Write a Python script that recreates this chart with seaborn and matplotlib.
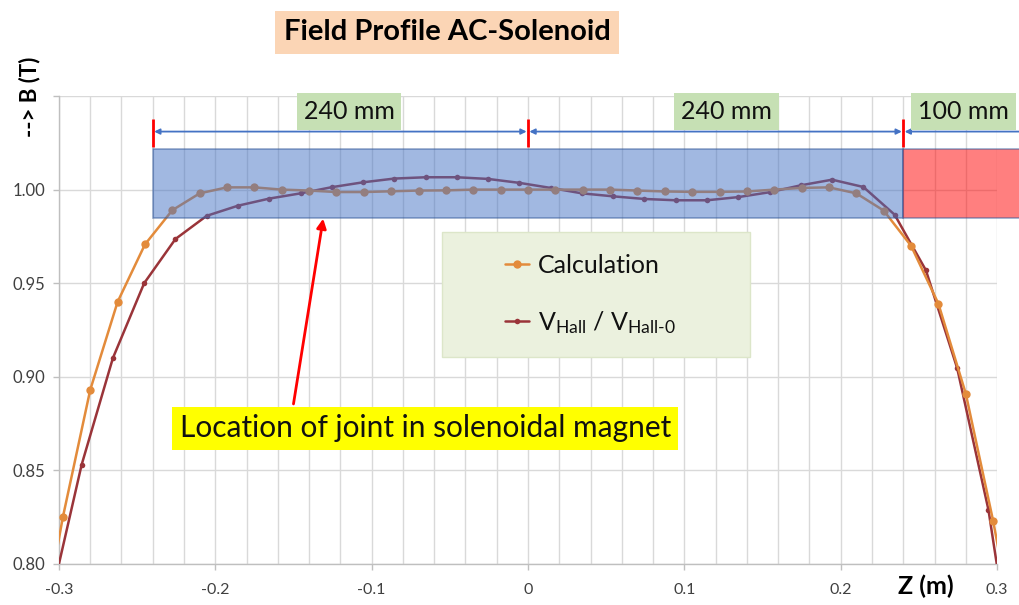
import matplotlib
matplotlib.use("Agg")
import matplotlib.pyplot as plt
import seaborn as sns
from matplotlib.patches import Rectangle
from matplotlib.ticker import MultipleLocator

# Calculated field profile along the axis (step 17.5 mm)
z_calc = [-0.315, -0.2975, -0.28, -0.2625, -0.245, -0.2275, -0.21, -0.1925,
          -0.175, -0.1575, -0.14, -0.1225, -0.105, -0.0875, -0.07, -0.0525,
          -0.035, -0.0175, 0.0, 0.0175, 0.035, 0.0525, 0.07, 0.0875, 0.105,
          0.1225, 0.14, 0.1575, 0.175, 0.1925, 0.21, 0.2275, 0.245, 0.2625,
          0.28, 0.2975, 0.315]
b_calc = [0.745, 0.825, 0.893, 0.940, 0.9707, 0.989, 0.998, 1.0012,
          1.0012, 1.0000, 0.9995, 0.9987, 0.9987, 0.9991, 0.9995, 0.9996,
          1.0000, 1.0000, 1.0000, 1.0000, 1.0000, 1.0000, 0.9995, 0.9990,
          0.9988, 0.9988, 0.9990, 1.0000, 1.0009, 1.0012, 0.998, 0.9888,
          0.970, 0.939, 0.891, 0.823, 0.745]

# Measured Hall probe ratio (step 20 mm)
z_hall = [-0.3055, -0.2855, -0.2655, -0.2455, -0.2255, -0.2055, -0.1855,
          -0.1655, -0.1455, -0.1255, -0.1055, -0.0855, -0.0655, -0.0455,
          -0.0255, -0.0055, 0.0145, 0.0345, 0.0545, 0.0745, 0.0945, 0.1145,
          0.1345, 0.1545, 0.1745, 0.1945, 0.2145, 0.2345, 0.2545, 0.2745,
          0.2945, 0.3145]
b_hall = [0.780, 0.853, 0.910, 0.950, 0.9736, 0.986, 0.9914, 0.9952,
          0.998, 1.0013, 1.0039, 1.0059, 1.0066, 1.0066, 1.0057, 1.0036,
          1.0009, 0.998, 0.9964, 0.995, 0.9943, 0.9943, 0.996, 0.9986,
          1.0023, 1.0053, 1.0014, 0.9866, 0.9569, 0.9046, 0.8289, 0.720]

x_ticks = [-0.3, -0.2, -0.1, 0.0, 0.1, 0.2, 0.3]
x_tick_labels = ["-0.3", "-0.2", "-0.1", "0", "0.1", "0.2", "0.3"]
y_ticks = [0.80, 0.85, 0.90, 0.95, 1.00, 1.05]
y_tick_labels = ["0.80", "0.85", "0.90", "0.95", "1.00", ""]

# Winding sections: two 240 mm halves and the 100 mm end piece
section_edges = [-0.24, 0.0, 0.24, 0.34]
section_labels = ["240 mm", "240 mm", "100 mm"]
section_label_x = [-0.1145, 0.127, 0.2785]
band_low, band_high = 0.985, 1.0215

ORANGE = "#e38b3b"
MAROON = "#9a3439"
BLUE = "#4472c4"

sns.set_theme(style="whitegrid")
plt.rcParams["font.family"] = ["Lato", "DejaVu Sans"]
plt.rcParams["mathtext.fontset"] = "custom"
plt.rcParams["mathtext.rm"] = "Lato"
plt.rcParams["mathtext.it"] = "Lato:italic"
plt.rcParams["mathtext.bf"] = "Lato:bold"

fig = plt.figure(figsize=(10.2, 6.05), dpi=100)
ax = fig.add_axes([0.0578, 0.0678, 0.9197, 0.7735])

sns.lineplot(x=z_hall, y=b_hall, ax=ax, color=MAROON, marker="o",
             markersize=4, markeredgewidth=0, linewidth=1.8,
             label=r"V$_{\mathrm{Hall}}$ / V$_{\mathrm{Hall\text{-}0}}$",
             zorder=3)
sns.lineplot(x=z_calc, y=b_calc, ax=ax, color=ORANGE, marker="o",
             markersize=6, markeredgewidth=0, linewidth=1.8,
             label="Calculation", zorder=3)

ax.set_xlim(-0.3, 0.3)
ax.set_ylim(0.80, 1.05)
ax.set_xticks(x_ticks)
ax.set_xticklabels(x_tick_labels)
ax.set_yticks(y_ticks)
ax.set_yticklabels(y_tick_labels)
ax.xaxis.set_minor_locator(MultipleLocator(0.02))
ax.grid(which="both", axis="x", color="#d9d9d9", linewidth=1)
ax.grid(which="major", axis="y", color="#d9d9d9", linewidth=1)
ax.tick_params(axis="y", labelsize=12, colors="#bfbfbf", labelcolor="#404040",
               left=True, length=4, width=1, pad=6)
ax.tick_params(axis="x", which="major", labelsize=11.5, bottom=True,
               colors="#bfbfbf", labelcolor="#404040", length=4, width=1,
               pad=10)
ax.tick_params(axis="x", which="minor", bottom=False)
for side in ("top", "right"):
    ax.spines[side].set_visible(False)
for side in ("left", "bottom"):
    ax.spines[side].set_color("#bfbfbf")
    ax.spines[side].set_linewidth(1)
ax.set_xlabel("")
ax.set_ylabel("")

# Homogeneous-field band over the two main sections and the end piece
ax.add_patch(Rectangle((section_edges[0], band_low),
                       section_edges[2] - section_edges[0],
                       band_high - band_low, facecolor=BLUE, alpha=0.5,
                       edgecolor="#2f5597", linewidth=1.2, zorder=4))
ax.add_patch(Rectangle((section_edges[2], band_low),
                       section_edges[3] - section_edges[2],
                       band_high - band_low, facecolor="#ff0000", alpha=0.5,
                       edgecolor="#2f5597", linewidth=1.2, zorder=4,
                       clip_on=False))

# Dimension arrows, section boundaries and their lengths
arrow_y = 1.031
for left, right in zip(section_edges[:-1], section_edges[1:]):
    ax.annotate("", xy=(right, arrow_y), xytext=(left, arrow_y),
                arrowprops=dict(arrowstyle="<|-|>", color=BLUE, lw=1.3,
                                mutation_scale=8, shrinkA=1, shrinkB=1),
                annotation_clip=False, zorder=5)
ax.vlines(section_edges[:-1], 1.0225, 1.0375, colors="#ff0000",
          linewidth=2, zorder=6)
for xc, txt in zip(section_label_x, section_labels):
    ax.text(xc, 1.0417, txt, ha="center", va="center", fontsize=18,
            color="#111111", clip_on=False, zorder=6,
            bbox=dict(boxstyle="square,pad=0.28", facecolor="#c6e0b4",
                      edgecolor="none"))

# Joint location callout
ax.annotate("", xy=(-0.131, 0.9845), xytext=(-0.15, 0.8855),
            arrowprops=dict(arrowstyle="-|>", color="#ff0000", lw=2,
                            mutation_scale=14, shrinkA=0, shrinkB=0),
            zorder=6)
ax.text(-0.0657, 0.8725, "Location of joint in solenoidal magnet",
        ha="center", va="center", fontsize=21.5, color="#111111", zorder=6,
        bbox=dict(boxstyle="square,pad=0.25", facecolor="#ffff00",
                  edgecolor="none"))

# Legend panel
ax.add_patch(Rectangle((0.408, 0.442), 0.329, 0.267, transform=ax.transAxes,
                       facecolor="#ebf1de", edgecolor="#dce6c9",
                       linewidth=1, zorder=7))
handles, labels = ax.get_legend_handles_labels()
leg = ax.legend(handles[::-1], labels[::-1], loc="center left",
                bbox_to_anchor=(0.4755, 0.575), frameon=False, fontsize=18,
                handlelength=0.95, handletextpad=0.38, labelspacing=1.3,
                borderpad=0, borderaxespad=0)
leg.set_zorder(8)
for t in leg.get_texts():
    t.set_color("#111111")

# Title and axis names
fig.text(447 / 1020, 1 - 32.5 / 605, "Field Profile AC-Solenoid",
         ha="center", va="center", fontsize=21, fontweight="bold",
         color="#000000",
         bbox=dict(boxstyle="square,pad=0.3", facecolor="#fbd5b5",
                   edgecolor="none"))
fig.text(30 / 1020, 1 - 97 / 605, "--> B (T)", rotation=90, ha="center",
         va="center", fontsize=16, fontweight="bold", color="#000000")
fig.text(926 / 1020, 1 - 586 / 605, "Z (m)", ha="center", va="center",
         fontsize=18, fontweight="bold", color="#000000")

fig.savefig("out.png", dpi=100)
